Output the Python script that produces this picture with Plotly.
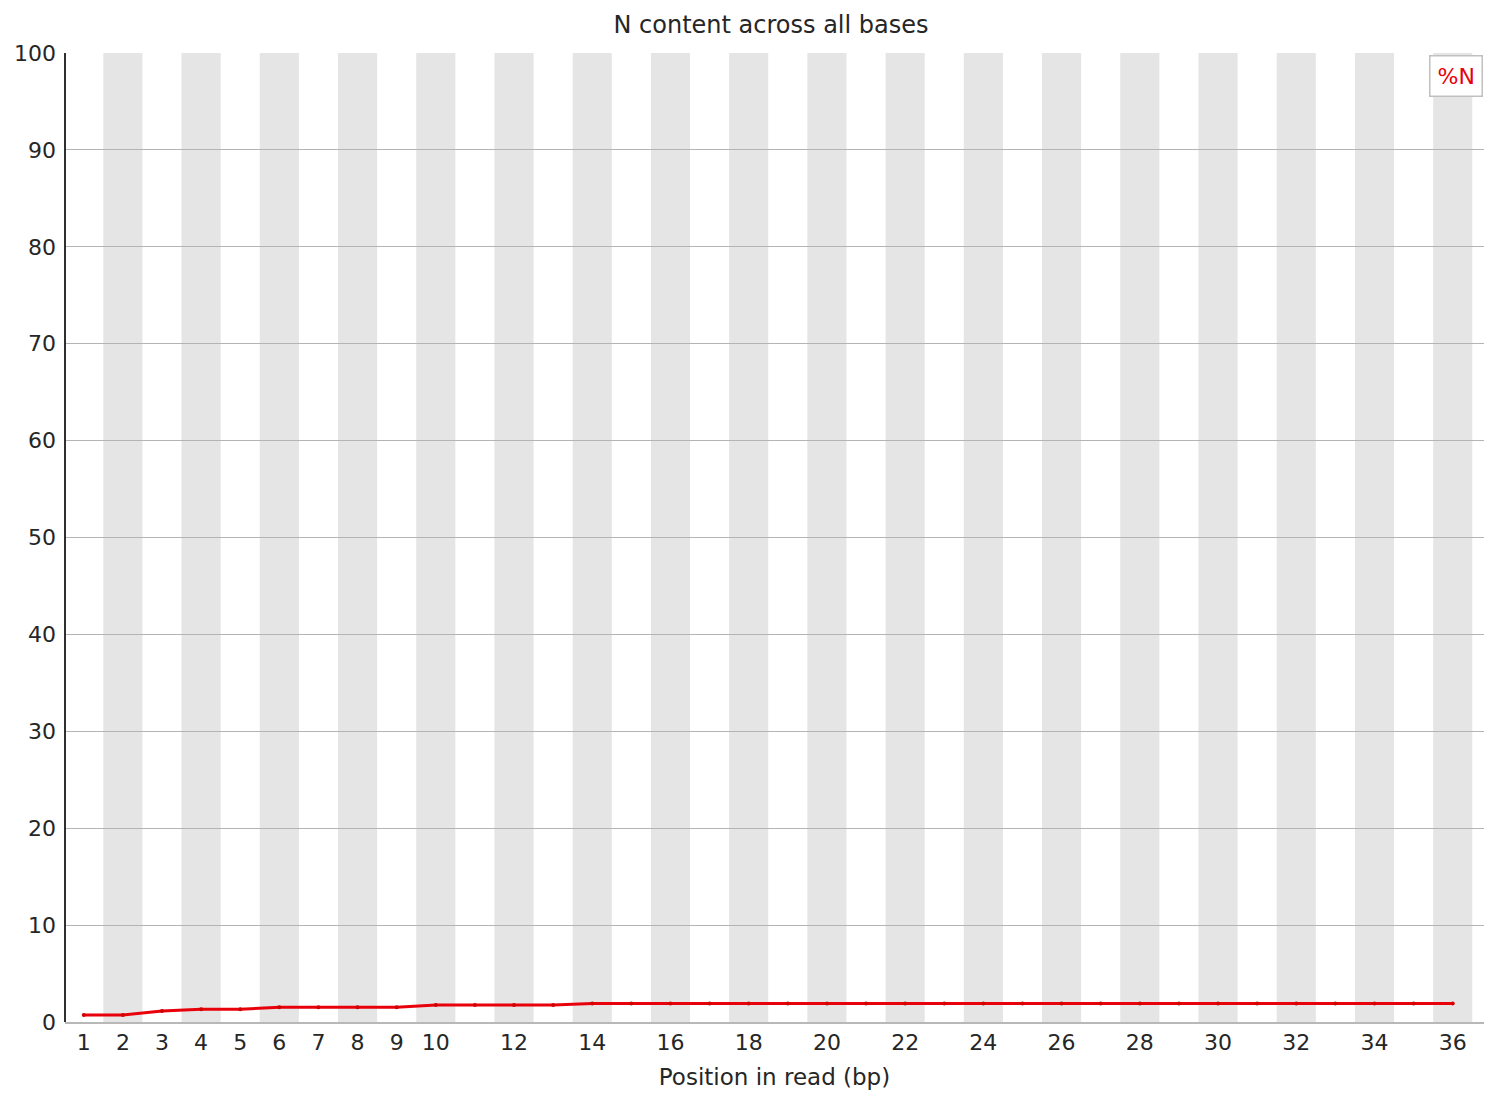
import plotly.graph_objects as go

positions = list(range(1, 37))
n_percent = [0.72, 0.72, 1.14, 1.31, 1.31, 1.52, 1.52, 1.52, 1.52,
             1.75, 1.75, 1.75, 1.75] + [1.9] * 23
x_tick_vals = list(range(1, 11)) + list(range(12, 37, 2))
y_tick_vals = list(range(0, 101, 10))

FONT = "DejaVu Sans"
W, H = 1487, 1089  # page body adds an 8px offset

fig = go.Figure()
fig.add_trace(go.Scatter(
    x=positions, y=n_percent, mode="lines+markers", name="%N",
    line=dict(color="#e8000b", width=3),
    marker=dict(color="#d00000", size=4),
    showlegend=False,
))

shapes = []
for p in positions:
    if p % 2 == 0:
        shapes.append(dict(type="rect", xref="x", yref="paper",
                           x0=p - 0.5, x1=p + 0.5, y0=0, y1=1,
                           fillcolor="#e5e5e5", line=dict(width=0),
                           layer="below"))
shapes.append(dict(type="line", xref="paper", yref="paper", x0=0, x1=0,
                   y0=0, y1=1, line=dict(color="#303030", width=2)))

fig.update_layout(
    width=W, height=H,
    margin=dict(l=57, r=11, t=45, b=75),
    paper_bgcolor="white", plot_bgcolor="white",
    title=dict(text="N content across all bases", x=(771 - 8) / W,
               xanchor="center", y=1 - 17 / H, yanchor="middle",
               font=dict(family=FONT, size=24, color="#262626")),
    font=dict(family=FONT, size=22, color="#262626"),
    shapes=shapes,
    annotations=[dict(text="%N", xref="paper", yref="paper",
                      x=0.9995, y=0.998, xanchor="right", yanchor="top",
                      showarrow=False, bgcolor="white",
                      bordercolor="#c0c0c0", borderwidth=1.5, borderpad=7,
                      font=dict(family=FONT, size=22, color="#e8000b"))],
)
fig.update_xaxes(range=[0.52, 36.8], tickvals=x_tick_vals,
                 ticktext=[str(v) for v in x_tick_vals],
                 showgrid=False, zeroline=False, showline=True,
                 linecolor="#b8b8b8", linewidth=2, ticks="",
                 automargin=False,
                 title=dict(text="Position in read (bp)", standoff=14,
                            font=dict(family=FONT, size=23)))
fig.update_yaxes(range=[0, 100], tickvals=y_tick_vals,
                 showgrid=True, gridcolor="#b4b4b4", gridwidth=1.2,
                 zeroline=False, showline=False, ticks="",
                 automargin=False, ticklabelstandoff=8)

fig.write_html("out.html")
